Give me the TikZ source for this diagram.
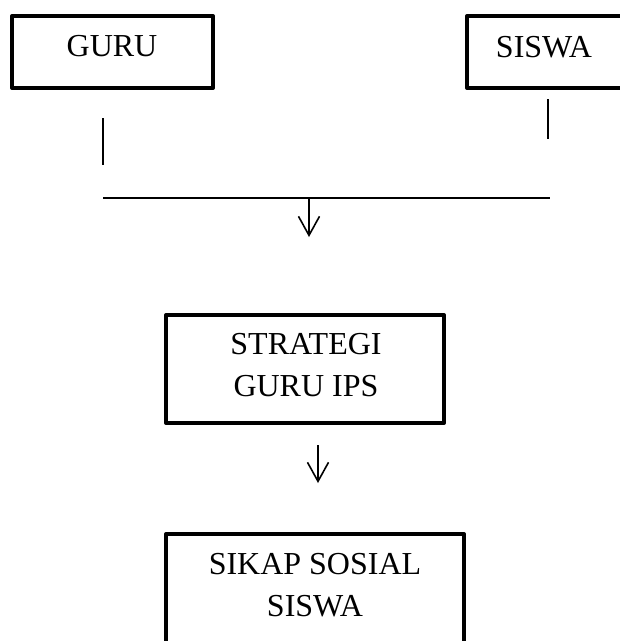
\documentclass[tikz,border=0pt]{standalone}
\usepackage{fontspec}
\setmainfont{Liberation Serif}
\usetikzlibrary{arrows.meta}

\tikzset{
    kotak/.style={draw, line width=4pt, line join=round, inner sep=0pt},
    teks/.style={inner sep=0pt, align=center, font=\fontsize{32}{42}\selectfont},
    garis/.style={line width=1.6pt},
    panah/.style={line width=1.6pt, -{Straight Barb[length=19pt, width=21pt]}}
}

\begin{document}
\begin{tikzpicture}[x=1pt, y=-1pt]

    \useasboundingbox (0, 0) rectangle (620, 641);
    \clip (0, 0) rectangle (620, 641);

    \node [kotak, minimum width=201pt, minimum height=72pt] (kguru) at (112.5, 52) {};
    \node [teks] (guru) at (112, 46) {GURU};

    \node [kotak, minimum width=160pt, minimum height=72pt] (ksiswa) at (547, 52) {};
    \node [teks] (siswa) at (544, 47.5) {SISWA};

    \coordinate (g1) at (103, 118);
    \coordinate (g2) at (103, 165);
    \coordinate (s1) at (548, 99);
    \coordinate (s2) at (548, 139);
    \draw [garis] (g1) -- (g2);
    \draw [garis] (s1) -- (s2);

    \coordinate (h1) at (103, 198);
    \coordinate (h2) at (550, 198);
    \coordinate (hm) at (309, 198);
    \coordinate (hp) at (309, 237);
    \draw [garis] (h1) -- (h2);
    \draw [panah] (hm) -- (hp);

    \node [kotak, minimum width=278pt, minimum height=108pt] (kstrategi) at (305, 369) {};
    \node [teks] (strategi) at (306, 365) {STRATEGI\\GURU IPS};

    \coordinate (p1) at (318, 445);
    \coordinate (p2) at (318, 483);
    \draw [panah] (p1) -- (p2);

    \node [kotak, minimum width=298pt, minimum height=120pt] (ksikap) at (315, 594) {};
    \node [teks] (sikap) at (315, 585) {SIKAP SOSIAL\\SISWA};

\end{tikzpicture}
\end{document}
